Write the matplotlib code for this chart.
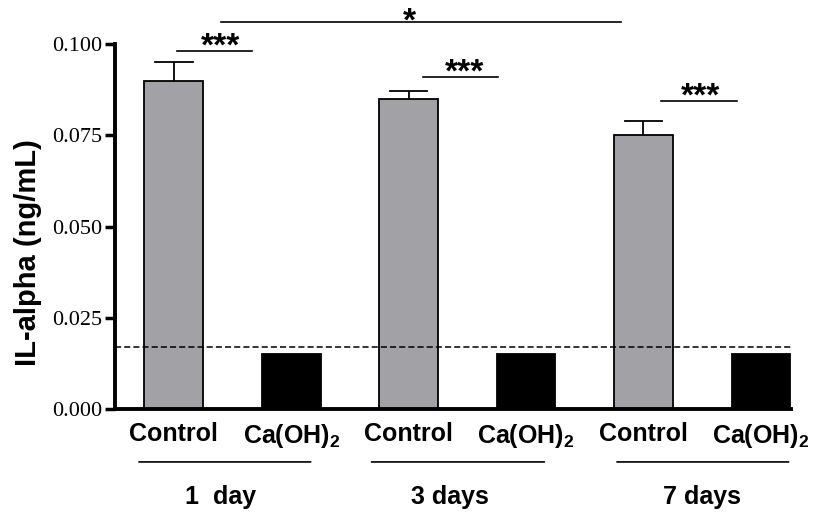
import matplotlib
matplotlib.use('Agg')
import matplotlib.pyplot as plt

plt.rcParams['mathtext.fontset'] = 'custom'
plt.rcParams['mathtext.rm'] = 'Liberation Sans:bold'
plt.rcParams['mathtext.bf'] = 'Liberation Sans:bold'

# Data
labels = ['Control', 'Ca(OH)$_2$', 'Control', 'Ca(OH)$_2$', 'Control', 'Ca(OH)$_2$']
values = [0.090, 0.015, 0.085, 0.015, 0.075, 0.015]
errors = [0.005, 0.0, 0.002, 0.0, 0.004, 0.0]
colors = ['#a2a1a6', 'black', '#a2a1a6', 'black', '#a2a1a6', 'black']
groups = ['1  day', '3 days', '7 days']
group_text_x = [0.40, 2.35, 4.50]
group_lines = [(-0.32, 1.19), (1.66, 3.18), (3.75, 5.26)]
limit_line = 0.017
# significance brackets: (x start, x end, y, text, text x, text offset)
sig_bars = [(0.03, 0.67, 0.098, '***', 0.40, 0.0013),
            (2.12, 2.76, 0.091, '***', 2.48, 0.0013),
            (4.15, 4.80, 0.0845, '***', 4.49, 0.0013),
            (0.40, 3.81, 0.106, '*', 2.01, 0.0023)]


def main():
    fig = plt.figure(figsize=(8.13, 5.13), dpi=100)
    ax = fig.add_axes([0.1415, 0.2027, 0.832, 0.7115])

    x = list(range(len(values)))
    ax.bar(x, values, width=0.5, color=colors, edgecolor='black', linewidth=1.3,
           yerr=[[0] * len(errors), errors], capsize=0,
           error_kw=dict(elinewidth=1.3, ecolor='black'), zorder=2)
    # error caps (drawn only where there is an error)
    for xi, v, e in zip(x, values, errors):
        if e > 0:
            ax.plot([xi - 0.16, xi + 0.16], [v + e, v + e], color='black', lw=1.3)

    ax.axhline(limit_line, color='black', ls='--', lw=1.1, dashes=(4, 2), zorder=3)

    ax.set_xlim(-0.5, 5.26)
    ax.set_ylim(0, 0.1)
    ax.set_yticks([0, 0.025, 0.05, 0.075, 0.1])
    ax.set_yticklabels(['0.000', '0.025', '0.050', '0.075', '0.100'],
                       family='Liberation Serif', fontsize=16)
    ax.set_xticks(x)
    ax.set_xticklabels(labels, family='Liberation Sans', fontweight='bold', fontsize=18)
    ax.tick_params(axis='x', length=0, pad=9)
    ax.tick_params(axis='y', length=7, width=2.5, pad=2)
    ax.spines['top'].set_visible(False)
    ax.spines['right'].set_visible(False)
    ax.spines['left'].set_linewidth(2.8)
    ax.spines['bottom'].set_linewidth(2.8)
    ax.set_ylabel('IL-alpha (ng/mL)', family='Liberation Sans', fontweight='bold',
                  fontsize=21, labelpad=8)
    ax.yaxis.set_label_coords(-0.108, 0.43)

    # significance lines
    for x0, x1, y, txt, tx, off in sig_bars:
        ax.plot([x0, x1], [y, y], color='black', lw=1.2, clip_on=False)
        ax.text(tx, y - off, txt, ha='center', va='baseline',
                fontsize=24, fontweight='bold', family='Liberation Sans')

    # group lines and labels under the x axis
    for (x0, x1), tx, g in zip(group_lines, group_text_x, groups):
        ax.annotate('', xy=(x0, -0.0145), xytext=(x1, -0.0145),
                    xycoords='data', arrowprops=dict(arrowstyle='-', lw=1.2),
                    annotation_clip=False)
        ax.text(tx, -0.024, g, ha='center', va='center', fontsize=18,
                fontweight='bold', family='Liberation Sans')

    fig.savefig('out.png', dpi=100)


main()
